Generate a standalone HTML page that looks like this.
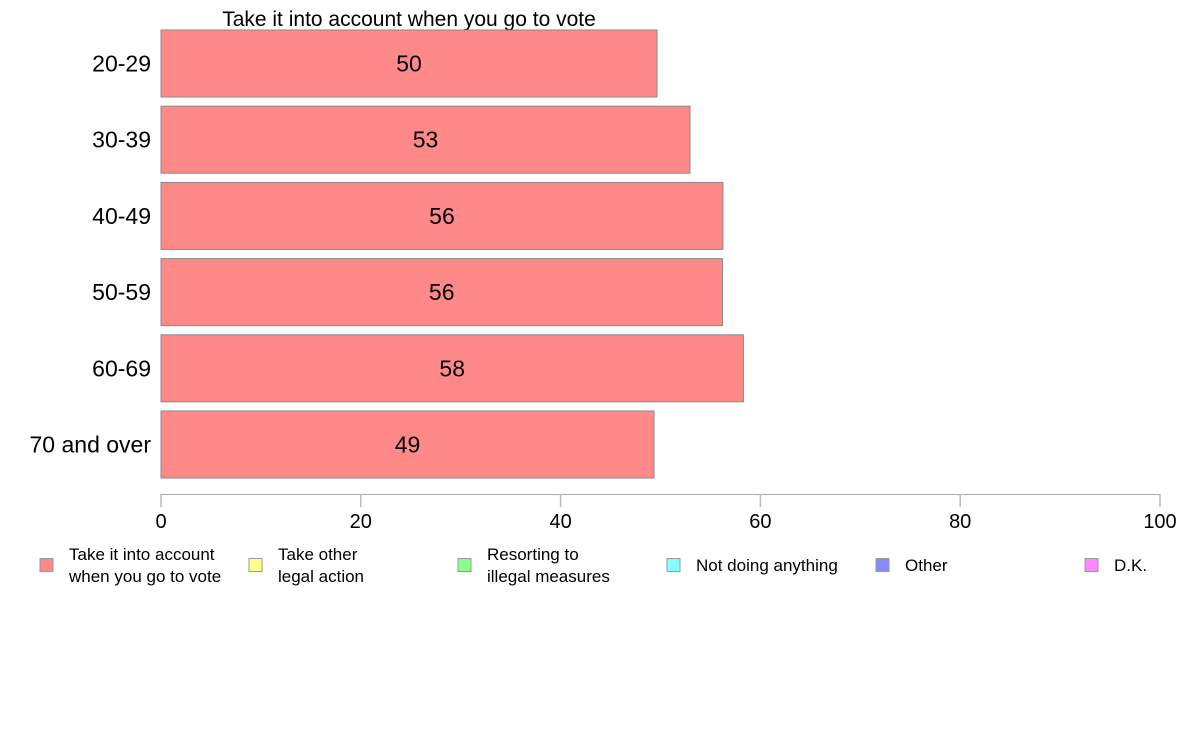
<!DOCTYPE html>
<html><head><meta charset="utf-8"><style>
body{margin:0;background:#fff;font-family:"Liberation Sans",Arial,sans-serif}
svg{display:block}
</style></head><body>
<svg id="chart" width="1188" height="736" xmlns="http://www.w3.org/2000/svg" font-family="Liberation Sans, Arial, sans-serif">
<text x="409" y="26" text-anchor="middle" font-size="21">Take it into account when you go to vote</text>
<g id="bars"></g>
<g id="axis"></g>
<g id="legend"></g>
</svg>
<script>
const categories = ["20-29","30-39","40-49","50-59","60-69","70 and over"];
const values = [49.65, 52.95, 56.25, 56.2, 58.3, 49.35];
const labels = ["50","53","56","56","58","49"];
const ticks = [0,20,40,60,80,100];
const legendNames = [["Take it into account","when you go to vote"],["Take other","legal action"],["Resorting to","illegal measures"],["Not doing anything"],["Other"],["D.K."]];
const legendColors = ["#ff8888","#ffff88","#88ff88","#88ffff","#8888ff","#ff88ff"];
const NS="http://www.w3.org/2000/svg";
const x0=161, x1=1160;
const xs=v=>x0+(x1-x0)*v/100;
const yc=i=>63.5+76.2*i;
const bh=67;
function mk(t,a,p){const e=document.createElementNS(NS,t);for(const k in a)e.setAttribute(k,a[k]);p.appendChild(e);return e;}
const bars=document.getElementById('bars');
categories.forEach((c,i)=>{
  const r=mk('rect',{x:xs(0),y:yc(i)-bh/2,width:xs(values[i])-xs(0),height:bh,fill:'#ff8888',stroke:'#888','stroke-width':1},bars);
  
  
  const t=mk('text',{x:(xs(0)+xs(values[i]))/2,y:yc(i)+8,'text-anchor':'middle','font-size':23},bars);
  t.textContent=labels[i];
  
  
  const l=mk('text',{x:151,y:yc(i)+8,'text-anchor':'end','font-size':23},bars);
  l.textContent=c;
  
  
});
const ax=document.getElementById('axis');
const line=mk('line',{x1:x0,x2:x1,y1:494.5,y2:494.5,stroke:'#aaa','stroke-width':1},ax);


ticks.forEach(v=>{
  const tk=mk('line',{x1:xs(v),x2:xs(v),y1:494,y2:507,stroke:'#bbb','stroke-width':1.5},ax);
  
  
  const t=mk('text',{x:xs(v),y:528,'text-anchor':'middle','font-size':20},ax);
  t.textContent=v;
  
  
});
const lg=document.getElementById('legend');
legendNames.forEach((n,i)=>{
  const lx=40+209*i;
  const g=mk('g',{},lg);
  
  
  mk('rect',{x:lx,y:558.5,width:13,height:13,fill:legendColors[i],stroke:'#999','stroke-width':1},g);
  n.forEach((s,j)=>{
    const yy = n.length===1 ? 571 : 560+22*j;
    const t=mk('text',{x:lx+29,y:yy,'font-size':17},g);
    t.textContent=s;
  });
});
</script>
</body></html>
